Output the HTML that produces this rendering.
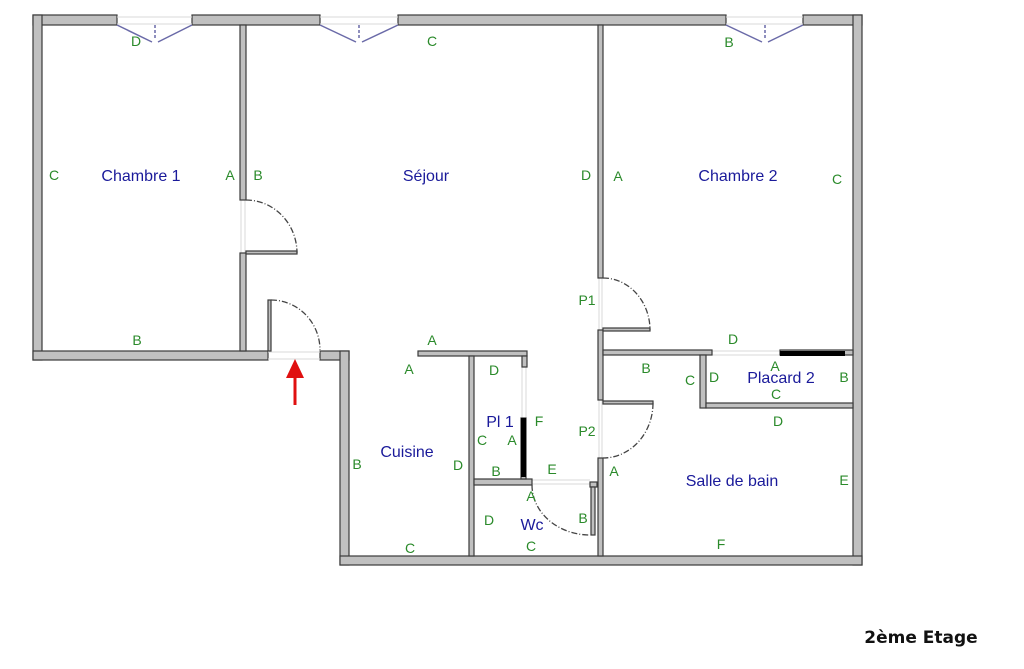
<!DOCTYPE html>
<html><head><meta charset="utf-8"><style>
html,body{margin:0;padding:0;background:#fff;width:1024px;height:669px;overflow:hidden}
svg{display:block}
.w{fill:#c0c0c0;stroke:#3a3a3a;stroke-width:1.2}
.g{fill:#2a8a2a;font-family:"Liberation Sans",sans-serif;font-size:14px;text-anchor:middle}
.b{fill:#1a1a9a;font-family:"Liberation Sans",sans-serif;font-size:16px;text-anchor:middle}
.arc{fill:none;stroke:#444;stroke-width:1.3;stroke-dasharray:6 2 1 2}
.win{fill:none;stroke:#6a6aa8;stroke-width:1.5}
.op{stroke:#d8d8d8;stroke-width:1}
</style></head><body>
<svg width="1024" height="669" viewBox="0 0 1024 669">
<rect class="w" x="33" y="15" width="84" height="10"/>
<rect class="w" x="192" y="15" width="128" height="10"/>
<rect class="w" x="398" y="15" width="328" height="10"/>
<rect class="w" x="803" y="15" width="59" height="10"/>
<rect class="w" x="33" y="15" width="9" height="345"/>
<rect class="w" x="853" y="15" width="9" height="550"/>
<rect class="w" x="33" y="351" width="235" height="9"/>
<rect class="w" x="320" y="351" width="29" height="9"/>
<rect class="w" x="340" y="351" width="9" height="214"/>
<rect class="w" x="340" y="556" width="522" height="9"/>
<g class="op"><line x1="117" y1="17" x2="192" y2="17"/><line x1="117" y1="24" x2="192" y2="24"/>
<line x1="320" y1="17" x2="398" y2="17"/><line x1="320" y1="24" x2="398" y2="24"/>
<line x1="726" y1="17" x2="803" y2="17"/><line x1="726" y1="24" x2="803" y2="24"/>
<line x1="268" y1="352" x2="320" y2="352"/><line x1="268" y1="359" x2="320" y2="359"/>
<line x1="241" y1="200" x2="241" y2="253"/><line x1="245" y1="200" x2="245" y2="253"/>
<line x1="599" y1="278" x2="599" y2="330"/><line x1="602" y1="278" x2="602" y2="330"/>
<line x1="599" y1="400" x2="599" y2="458"/><line x1="602" y1="400" x2="602" y2="458"/>
<line x1="712" y1="351" x2="780" y2="351"/><line x1="712" y1="355" x2="780" y2="355"/>
<line x1="522" y1="367" x2="522" y2="418"/><line x1="526" y1="367" x2="526" y2="418"/>
<line x1="532" y1="480" x2="590" y2="480"/><line x1="532" y1="484" x2="590" y2="484"/></g>
<g class="win">
<polyline points="117,25 152,42"/><polyline points="192,25 158,42"/>
<polyline points="320,25 356,42"/><polyline points="398,25 362,42"/>
<polyline points="726,25 762,42"/><polyline points="803,25 768,42"/>
<line x1="155" y1="25" x2="155" y2="40" stroke-dasharray="3 2"/>
<line x1="359" y1="25" x2="359" y2="40" stroke-dasharray="3 2"/>
<line x1="765" y1="25" x2="765" y2="40" stroke-dasharray="3 2"/>
</g>
<rect class="w" x="240" y="25" width="6" height="175"/>
<rect class="w" x="240" y="253" width="6" height="98"/>
<rect class="w" x="246" y="251" width="51" height="3"/>
<rect class="w" x="268" y="300" width="3" height="51"/>
<rect class="w" x="598" y="25" width="5" height="253"/>
<rect class="w" x="598" y="330" width="5" height="70"/>
<rect class="w" x="603" y="328" width="47" height="3"/>
<rect class="w" x="598" y="458" width="5" height="98"/>
<rect class="w" x="603" y="401" width="50" height="3"/>
<rect class="w" x="603" y="350" width="109" height="5"/>
<rect class="w" x="780" y="350" width="73" height="5"/>
<rect x="780" y="351" width="65" height="5" fill="#000"/>
<rect class="w" x="700" y="355" width="6" height="53"/>
<rect class="w" x="706" y="403" width="147" height="5"/>
<rect class="w" x="418" y="351" width="109" height="5"/>
<rect class="w" x="522" y="356" width="5" height="11"/>
<rect class="w" x="469" y="356" width="5" height="200"/>
<rect class="w" x="474" y="479" width="58" height="6"/>
<rect class="w" x="521" y="418" width="5" height="61"/>
<rect x="521" y="418" width="5" height="59" fill="#000"/>
<rect class="w" x="590" y="482" width="7" height="5"/>
<rect class="w" x="591" y="487" width="4" height="48"/>
<path class="arc" d="M246,200 A51,53 0 0 1 297,253"/>
<path class="arc" d="M271,300 A49,50 0 0 1 320,350"/>
<path class="arc" d="M603,278 A47,52 0 0 1 650,330"/>
<path class="arc" d="M653,403 A50,55 0 0 1 603,458"/>
<path class="arc" d="M532,485 A58,50 0 0 0 590,535"/>
<line x1="295" y1="378" x2="295" y2="405" stroke="#e01010" stroke-width="3"/>
<polygon points="286,378 304,378 295,359" fill="#e01010"/>
<g class="g">
<text x="136" y="46">D</text><text x="432" y="46">C</text><text x="729" y="47">B</text>
<text x="54" y="180">C</text><text x="230" y="180">A</text><text x="258" y="180">B</text>
<text x="586" y="180">D</text><text x="618" y="181">A</text><text x="837" y="184">C</text>
<text x="137" y="345">B</text><text x="587" y="305">P1</text>
<text x="432" y="345">A</text><text x="409" y="374">A</text>
<text x="733" y="344">D</text>
<text x="494" y="375">D</text><text x="646" y="373">B</text><text x="690" y="385">C</text><text x="714" y="382">D</text>
<text x="775" y="371">A</text><text x="844" y="382">B</text><text x="776" y="399">C</text>
<text x="778" y="426">D</text><text x="539" y="426">F</text><text x="587" y="436">P2</text>
<text x="482" y="445">C</text><text x="512" y="445">A</text>
<text x="357" y="469">B</text><text x="458" y="470">D</text>
<text x="496" y="476">B</text><text x="552" y="474">E</text><text x="614" y="476">A</text><text x="844" y="485">E</text>
<text x="531" y="501">A</text><text x="489" y="525">D</text><text x="583" y="523">B</text>
<text x="410" y="553">C</text><text x="531" y="551">C</text><text x="721" y="549">F</text>
</g>
<g class="b">
<text x="141" y="181">Chambre 1</text><text x="426" y="181">Séjour</text><text x="738" y="181">Chambre 2</text>
<text x="781" y="383">Placard 2</text><text x="500" y="427">Pl 1</text>
<text x="407" y="457">Cuisine</text><text x="732" y="486">Salle de bain</text><text x="532" y="530">Wc</text>
</g>
<text x="921" y="643" font-family="'DejaVu Sans',sans-serif" font-weight="bold" font-size="17" text-anchor="middle" fill="#111">2ème Etage</text>
</svg>
</body></html>
